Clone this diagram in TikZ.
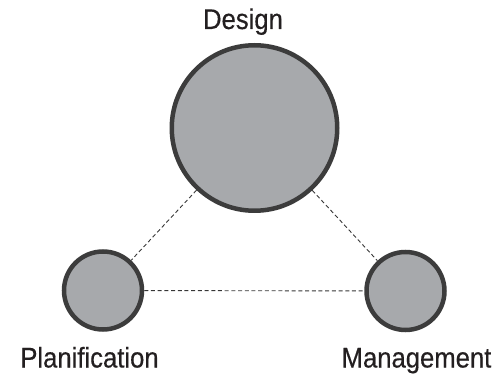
\documentclass[tikz,border=0pt]{standalone}
\usepackage{fontspec}
\setmainfont{Liberation Sans}[FakeStretch=0.9,FakeBold=0.4]
\definecolor{fillgray}{HTML}{A7A9AC}
\definecolor{rimgray}{HTML}{3C3C3C}
\definecolor{txt}{HTML}{231F20}
\begin{document}
\begin{tikzpicture}[x=1pt,y=-1pt,
  ball/.style={circle,draw=rimgray,fill=fillgray,line width=4.5pt,inner sep=0pt},
  big/.style={ball,minimum size=165.5pt},
  small/.style={ball,minimum size=78pt},
  lbl/.style={anchor=base,inner sep=0pt,text=txt,font=\fontsize{28.5}{30}\selectfont},
  link/.style={draw=rimgray!90!black,line width=0.9pt,dash pattern=on 4pt off 2.7pt}]
\useasboundingbox (0,0) rectangle (493,374);
\node[big] (design) at (254.5,128) {};
\node[small] (plan) at (103,290.5) {};
\node[small] (mgmt) at (405.5,291) {};
\draw[link] (design) -- (plan);
\draw[link] (design) -- (mgmt);
\draw[link] (plan) -- (mgmt);
\node[lbl] (tdesign) at (243,29) {Design};
\node[lbl] (tplan) at (89.5,367.5) {Planification};
\node[lbl] (tmgmt) at (416.5,367.5) {Management};
\end{tikzpicture}
\end{document}
